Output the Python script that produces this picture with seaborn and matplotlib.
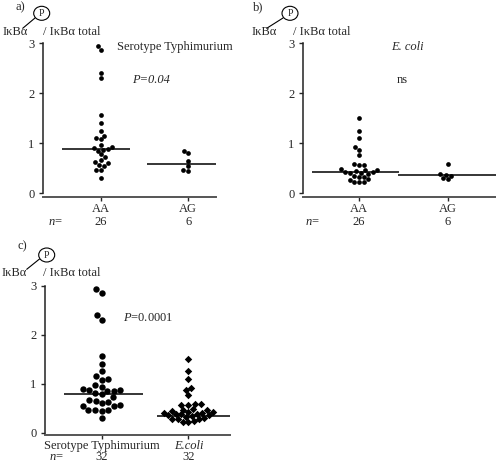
import matplotlib
matplotlib.use('Agg')
import numpy as np
import pandas as pd
import seaborn as sns
import matplotlib.pyplot as plt
from matplotlib.patches import Ellipse
from matplotlib.lines import Line2D

# a) Serotype Typhimurium, by genotype
stm_aa = [2.93, 2.85, 2.40, 2.30, 1.56, 1.40, 1.25, 1.15, 1.10, 1.08, 0.97, 0.93, 0.90,
          0.88, 0.87, 0.85, 0.78, 0.72, 0.67, 0.63, 0.60, 0.57, 0.55, 0.47, 0.47, 0.30]
stm_ag = [0.85, 0.80, 0.65, 0.55, 0.47, 0.45]
# b) E. coli, by genotype
eco_aa = [1.50, 1.25, 1.10, 0.92, 0.87, 0.77, 0.58, 0.57, 0.57, 0.48, 0.47, 0.46, 0.45,
          0.43, 0.42, 0.41, 0.40, 0.38, 0.35, 0.33, 0.32, 0.28, 0.27, 0.23, 0.22, 0.22]
eco_ag = [0.58, 0.38, 0.37, 0.35, 0.30, 0.28]
# c) all samples per bacterium
stm_all = stm_aa + stm_ag
eco_all = eco_aa + eco_ag

genotypes = ['AA', 'AG']
bacteria = ['Serotype Typhimurium', 'E.coli']
med_a = [0.88, 0.59]
med_b = [0.43, 0.36]
med_c = [0.79, 0.33]

W, H = 496, 465

sns.set_style('ticks')
plt.rcParams['font.family'] = ['Liberation Serif', 'DejaVu Serif']
plt.rcParams['font.size'] = 9
plt.rcParams['mathtext.fontset'] = 'custom'
plt.rcParams['mathtext.rm'] = 'Liberation Serif'
plt.rcParams['mathtext.it'] = 'Liberation Serif:italic'


def fx(x):
    return x / W


def fy(y):
    return 1 - y / H


def add_axes(left, right, top, bottom):
    return fig.add_axes([fx(left), fy(bottom), (right - left) / W, (bottom - top) / H])


def ylabel_block(tag, tag_xy, x0, x1, ty, cx, cy, line):
    fig.text(fx(tag_xy[0]), fy(tag_xy[1]), tag, ha='left', va='center')
    fig.text(fx(x0), fy(ty), 'IκBα', ha='left', va='center')
    fig.text(fx(x1), fy(ty), '/ IκBα total', ha='left', va='center')
    fig.add_artist(Ellipse((fx(cx), fy(cy)), 16 / W, 14 / H, transform=fig.transFigure,
                           fill=False, ec='black', lw=0.8))
    fig.text(fx(cx), fy(cy) - 0.001, 'P', ha='center', va='center', fontsize=7)
    fig.add_artist(Line2D([fx(line[0]), fx(line[2])], [fy(line[1]), fy(line[3])],
                          transform=fig.transFigure, color='black', lw=0.8))


def style(ax, cats, counts, xlim, ybot, pad, npos):
    ax.set_xlim(*xlim)
    ax.set_ylim(ybot, 3)
    ax.set_yticks([0, 1, 2, 3])
    ax.set_xticks(range(len(cats)))
    ax.set_xticklabels(cats)
    ax.set_xlabel('')
    ax.set_ylabel('')
    for s in ['top', 'right']:
        ax.spines[s].set_visible(False)
    ax.spines['left'].set_bounds(0, 3)
    ax.spines['left'].set_linewidth(1.1)
    ax.spines['left'].set_color('#222222')
    ax.spines['bottom'].set_linewidth(1.4)
    ax.spines['bottom'].set_color('#555555')
    ax.tick_params(axis='y', direction='out', length=3, width=1, pad=3, labelsize=9)
    ax.tick_params(axis='x', direction='out', length=3, width=1, pad=pad, labelsize=9)
    ax.annotate('$n$=', xy=(-0.52, 0), xycoords=('data', 'axes fraction'),
                xytext=(0, -npos), textcoords='offset pixels', ha='center', va='center')
    for i, n in enumerate(counts):
        ax.annotate(str(n), xy=(i, 0), xycoords=('data', 'axes fraction'),
                    xytext=(0, -npos), textcoords='offset pixels', ha='center', va='center')


def medians(ax, meds, lo, hi):
    for i, m in enumerate(meds):
        ax.hlines(m, i + lo[i], i + hi[i], color='black', lw=1.1, zorder=3)


fig = plt.figure(figsize=(W / 100, H / 100), dpi=100)

# panel a
ax_a = add_axes(43, 216, 43, 196.5)
df_a = pd.DataFrame({'group': ['AA'] * len(stm_aa) + ['AG'] * len(stm_ag),
                     'value': stm_aa + stm_ag})
sns.swarmplot(data=df_a, x='group', y='value', order=genotypes, color='black', size=3.4, ax=ax_a)
medians(ax_a, med_a, [-0.45, -0.47], [0.33, 0.32])
style(ax_a, genotypes, [len(stm_aa), len(stm_ag)], (-0.667, 1.32), -0.07, 1.5, 25)
ax_a.text(0.18, 2.92, 'Serotype Typhimurium', ha='left', va='center')
ax_a.text(0.36, 2.26, 'P=0.04', ha='left', va='center', style='italic')
ylabel_block('a)', (15, 7), 3, 43, 32, 41.7, 13.3, (22.7, 28.3, 35, 18))

# panel b
ax_b = add_axes(303, 496, 43, 196.5)
df_b = pd.DataFrame({'group': ['AA'] * len(eco_aa) + ['AG'] * len(eco_ag),
                     'value': eco_aa + eco_ag})
sns.swarmplot(data=df_b, x='group', y='value', order=genotypes, color='black', size=3.4, ax=ax_b)
medians(ax_b, med_b, [-0.53, -0.56], [0.45, 0.55])
style(ax_b, genotypes, [len(eco_aa), len(eco_ag)], (-0.63, 1.54), -0.07, 1.5, 25)
ax_b.text(0.54, 2.92, 'E. coli', ha='center', va='center', style='italic')
ax_b.text(0.49, 2.26, 'ns', ha='center', va='center')
ylabel_block('b)', (253, 7), 252, 293, 32, 290, 13.3, (266.7, 28.3, 283, 18))

# panel c
ax_c = add_axes(45, 230, 286, 435)
df_c = pd.DataFrame({'group': [bacteria[0]] * len(stm_all) + [bacteria[1]] * len(eco_all),
                     'value': stm_all + eco_all})
sns.swarmplot(data=df_c[df_c['group'] == bacteria[0]], x='group', y='value', order=bacteria,
              color='black', size=4.6, ax=ax_c)
sns.swarmplot(data=df_c[df_c['group'] == bacteria[1]], x='group', y='value', order=bacteria,
              color='black', size=3.8, marker='D', ax=ax_c)
medians(ax_c, med_c, [-0.44, -0.36], [0.48, 0.48])
style(ax_c, bacteria, [len(stm_all), len(eco_all)], (-0.655, 1.48), -0.05, 0.5, 22)
ax_c.get_xticklabels()[1].set_style('italic')
ax_c.text(0.25, 2.35, '$P$=0.0001', ha='left', va='center')
ylabel_block('c)', (17, 246), 2, 43, 273, 46.7, 255, (26.7, 269.3, 39.5, 259))

fig.savefig('out.png', dpi=100)
